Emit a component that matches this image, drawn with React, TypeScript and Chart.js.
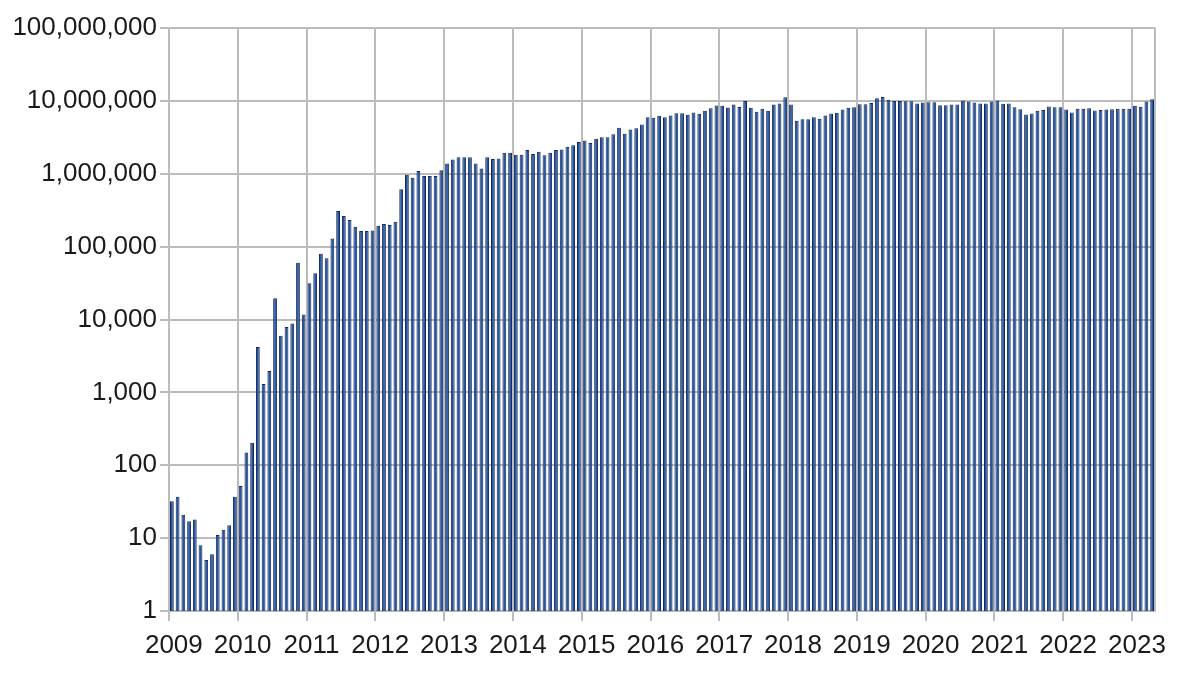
import { useEffect, useRef } from "react";
import { Chart, registerables } from "chart.js";

Chart.register(...registerables);

const years = [2009, 2010, 2011, 2012, 2013, 2014, 2015, 2016, 2017, 2018, 2019, 2020, 2021, 2022, 2023];

// monthly values (log scale)
const values2009 = [32, 37, 21, 17, 18, 8, 5, 6, 11, 13, 15, 37];
const values2010 = [52, 150, 203, 4200, 1300, 1960, 19500, 6000, 7900, 8800, 60000, 11700];
const values2011 = [31500, 43000, 80000, 69000, 129000, 308000, 263000, 232000, 188000, 164000, 164000, 166000];
const values2012 = [194000, 204000, 198000, 220000, 615000, 968000, 880000, 1090000, 930000, 930000, 930000, 1120000];
const values2013 = [1380000, 1570000, 1690000, 1690000, 1690000, 1380000, 1180000, 1690000, 1590000, 1620000, 1940000, 1940000];
const values2014 = [1820000, 1820000, 2110000, 1870000, 2000000, 1800000, 1940000, 2110000, 2150000, 2340000, 2470000, 2720000];
const values2015 = [2870000, 2650000, 3030000, 3180000, 3180000, 3490000, 4270000, 3530000, 4050000, 4220000, 4740000, 5970000];
const values2016 = [5850000, 6240000, 5970000, 6290000, 6780000, 6780000, 6430000, 6920000, 6640000, 7300000, 7930000, 8630000];
const values2017 = [8540000, 8100000, 8900000, 8270000, 10000000, 8020000, 7070000, 7770000, 7300000, 8900000, 9200000, 11200000];
const values2018 = [8900000, 5320000, 5610000, 5610000, 5970000, 5670000, 6290000, 6700000, 6850000, 7600000, 8020000, 8200000];
const values2019 = [9000000, 9000000, 9350000, 10900000, 11300000, 10400000, 10000000, 10000000, 9900000, 9900000, 9200000, 9500000];
const values2020 = [9600000, 9600000, 8700000, 8700000, 8900000, 8900000, 10100000, 9800000, 9500000, 9200000, 9200000, 9800000];
const values2021 = [10100000, 9100000, 9200000, 8200000, 7700000, 6500000, 6700000, 7300000, 7500000, 8400000, 8200000, 8200000];
const values2022 = [7600000, 6900000, 7800000, 7800000, 7900000, 7400000, 7500000, 7600000, 7700000, 7800000, 7800000, 7800000];
const values2023 = [8600000, 8300000, 9800000, 10500000];

const yTicks = [1, 10, 100, 1000, 10000, 100000, 1000000, 10000000, 100000000];

const allValues = [
  values2009, values2010, values2011, values2012, values2013, values2014, values2015, values2016,
  values2017, values2018, values2019, values2020, values2021, values2022, values2023,
];

const monthLabels: string[] = [];
allValues.forEach((arr, y) => {
  arr.forEach((_, m) => monthLabels.push(`${years[y]}-${String(m + 1).padStart(2, "0")}`));
});
const monthlyValues = allValues.flat();

const GRID = "#bcbcbc";
const CLEAR = "rgba(0,0,0,0)";

const App: React.FC = () => {
  const chartRef = useRef<HTMLCanvasElement | null>(null);
  const chartInstanceRef = useRef<Chart<"bar"> | null>(null);

  useEffect(() => {
    if (!chartRef.current) return;
    const ctx = chartRef.current.getContext("2d");
    if (!ctx) return;
    if (chartInstanceRef.current) chartInstanceRef.current.destroy();

    chartInstanceRef.current = new Chart(ctx, {
      type: "bar",
      data: {
        labels: monthLabels,
        datasets: [
          {
            label: "",
            data: monthlyValues,
            backgroundColor: "#2556a0",
            borderColor: "#15285a",
            borderWidth: 1,
            borderSkipped: "bottom",
            barPercentage: 0.66,
            categoryPercentage: 1,
          },
        ],
      },
      options: {
        animation: false,
        responsive: true,
        maintainAspectRatio: false,
        layout: { padding: { top: 28, right: 45, bottom: 0, left: 0 } },
        plugins: { legend: { display: false }, tooltip: { enabled: false } },
        scales: {
          x: {
            type: "category",
            offset: true,
            grid: {
              offset: true,
              lineWidth: 2,
              tickLength: 10,
              color: (c: any) => (c.type !== "tick" || c.index % 12 === 0 ? GRID : CLEAR),
              tickColor: (c: any) => (c.type === "tick" && c.index % 12 === 0 ? GRID : CLEAR),
            },
            border: { display: true, color: GRID, width: 2 },
            ticks: {
              autoSkip: false,
              maxRotation: 0,
              minRotation: 0,
              padding: 9,
              labelOffset: 2,
              color: "#1a1a1a",
              font: { family: "Liberation Sans", size: 26 },
              callback: (_v: any, index: number) => (index % 12 === 0 ? String(years[index / 12]) : ""),
            },
            afterFit: (scale: any) => {
              scale.height = 63;
            },
          },
          y: {
            type: "logarithmic",
            min: 1,
            max: 100000000,
            grid: { color: GRID, lineWidth: 2, tickLength: 9 },
            border: { display: true, color: GRID, width: 2 },
            afterBuildTicks: (scale: any) => {
              scale.ticks = yTicks.map((v) => ({ value: v }));
            },
            ticks: {
              padding: 3,
              color: "#1a1a1a",
              font: { family: "Liberation Sans", size: 26 },
              callback: (v: any) => Number(v).toLocaleString("en-US"),
            },
            afterFit: (scale: any) => {
              scale.width = 169;
            },
          },
        },
      },
    });

    return () => {
      if (chartInstanceRef.current) {
        chartInstanceRef.current.destroy();
        chartInstanceRef.current = null;
      }
    };
  }, []);

  return (
    <div style={{ position: "fixed", left: 0, top: 0, width: 1200, height: 674, background: "#fff" }}>
      <canvas ref={chartRef} />
    </div>
  );
};

export default App;
